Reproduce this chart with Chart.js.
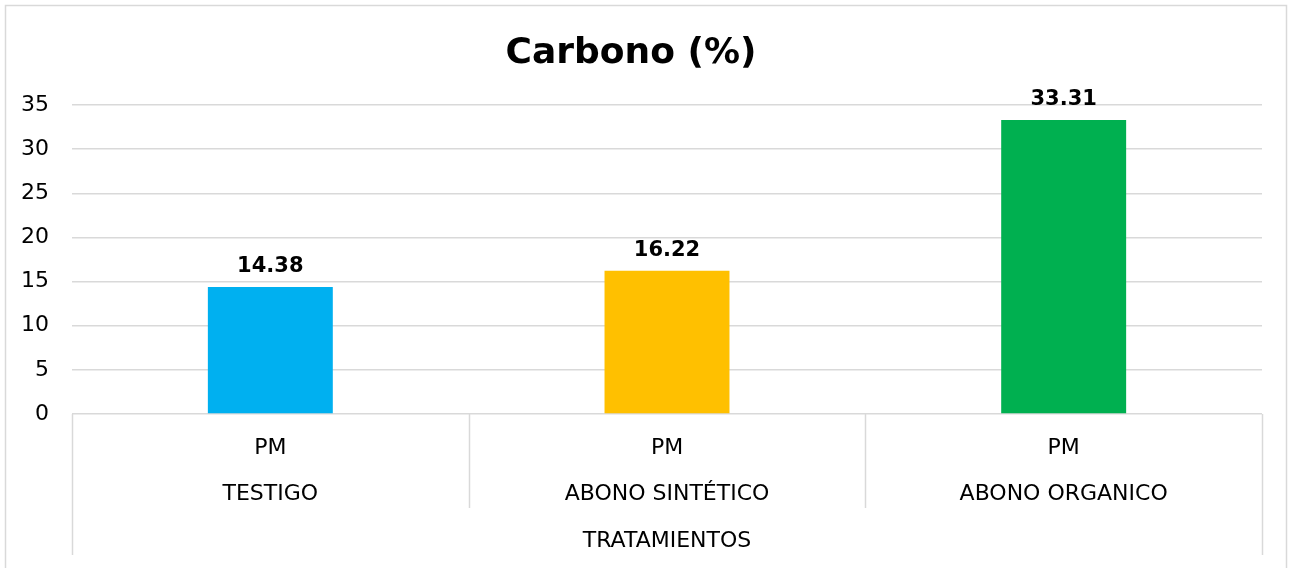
<!DOCTYPE html>
<html lang="es">
  <head>
    <meta charset="utf-8" />
    <title>Carbono (%)</title>
    <style>
      body { margin: 0; background: #fff; }
      #wrap { width: 1292px; height: 568px; }
    </style>
  </head>
  <body>
    <div id="wrap"><canvas id="myChart" width="1292" height="568"></canvas></div>
    <script src="https://cdn.jsdelivr.net/npm/chart.js"></script>
    <script>
      // data
      const grupo = 'PM';
      const tratamientos = ['TESTIGO', 'ABONO SINTÉTICO', 'ABONO ORGANICO'];
      const carbono = [14.38, 16.22, 33.31];
      const colores = ['#00B0F0', '#FFC000', '#00B050'];
      const yTicks = [0, 5, 10, 15, 20, 25, 30, 35];

      const font = 'DejaVu Sans';
      const gris = '#d9d9d9';

      // frame round the whole chart
      const frame = {
        id: 'frame',
        beforeDraw(chart) {
          const ctx = chart.ctx;
          ctx.save();
          ctx.fillStyle = '#fff';
          ctx.fillRect(0, 0, chart.width, chart.height);
          ctx.strokeStyle = gris;
          ctx.lineWidth = 1.5;
          ctx.strokeRect(5.5, 5.5, chart.width - 11, chart.height + 5);
          ctx.restore();
        },
      };

      // dividers of the two level category axis
      const dividers = {
        id: 'dividers',
        afterDraw(chart) {
          const x = chart.scales.x;
          const ctx = chart.ctx;
          const top = chart.chartArea.bottom;
          ctx.save();
          ctx.strokeStyle = gris;
          ctx.lineWidth = 1.5;
          ctx.beginPath();
          for (let i = 0; i <= tratamientos.length; i++) {
            const px = Math.round(x.getPixelForValue(i - 0.5)) + 0.5;
            const outer = i === 0 || i === tratamientos.length;
            ctx.moveTo(px, top);
            ctx.lineTo(px, outer ? top + 141 : top + 94);
          }
          ctx.stroke();
          ctx.restore();
        },
      };

      // value above each bar
      const valueLabels = {
        id: 'valueLabels',
        afterDatasetsDraw(chart) {
          const ctx = chart.ctx;
          ctx.save();
          ctx.font = 'bold 21px "' + font + '"';
          ctx.fillStyle = '#000';
          ctx.textAlign = 'center';
          ctx.textBaseline = 'alphabetic';
          chart.getDatasetMeta(0).data.forEach((bar, i) => {
            ctx.fillText(carbono[i].toFixed(2), bar.x, bar.y - 15);
          });
          ctx.restore();
        },
      };

      const config = {
        type: 'bar',
        data: {
          labels: tratamientos.map((t) => [grupo, t]),
          datasets: [
            {
              data: carbono,
              backgroundColor: colores,
              borderWidth: 0,
              categoryPercentage: 1,
              barPercentage: 0.315,
            },
          ],
        },
        options: {
          responsive: false,
          animation: false,
          layout: { padding: { left: 0, right: 30, top: 0, bottom: 0 } },
          plugins: {
            legend: { display: false },
            tooltip: { enabled: false },
            title: {
              display: true,
              text: 'Carbono (%)',
              color: '#000',
              font: { family: font, size: 36, weight: 'bold', lineHeight: 1.2 },
              padding: { top: 32, bottom: 29.8 },
            },
          },
          scales: {
            y: {
              min: 0,
              max: 35,
              afterBuildTicks(scale) {
                scale.ticks = yTicks.map((v) => ({ value: v }));
              },
              afterFit(scale) {
                scale.width = 72;
              },
              border: { display: false },
              grid: { color: gris, lineWidth: 1.5, drawTicks: false },
              ticks: {
                color: '#000',
                padding: 23,
                font: { family: font, size: 22 },
              },
            },
            x: {
              afterFit(scale) {
                scale.height = 154;
              },
              border: { display: false },
              grid: { display: false },
              ticks: {
                color: '#000',
                padding: 3,
                maxRotation: 0,
                autoSkip: false,
                font: { family: font, size: 22, lineHeight: 46 / 22 },
              },
              title: {
                display: true,
                text: 'TRATAMIENTOS',
                color: '#000',
                font: { family: font, size: 22, lineHeight: 1.2 },
                padding: { top: 0, bottom: 14 },
              },
            },
          },
        },
        plugins: [frame, dividers, valueLabels],
      };

      var myChart = new Chart(document.getElementById('myChart'), config);
    </script>
  </body>
</html>
